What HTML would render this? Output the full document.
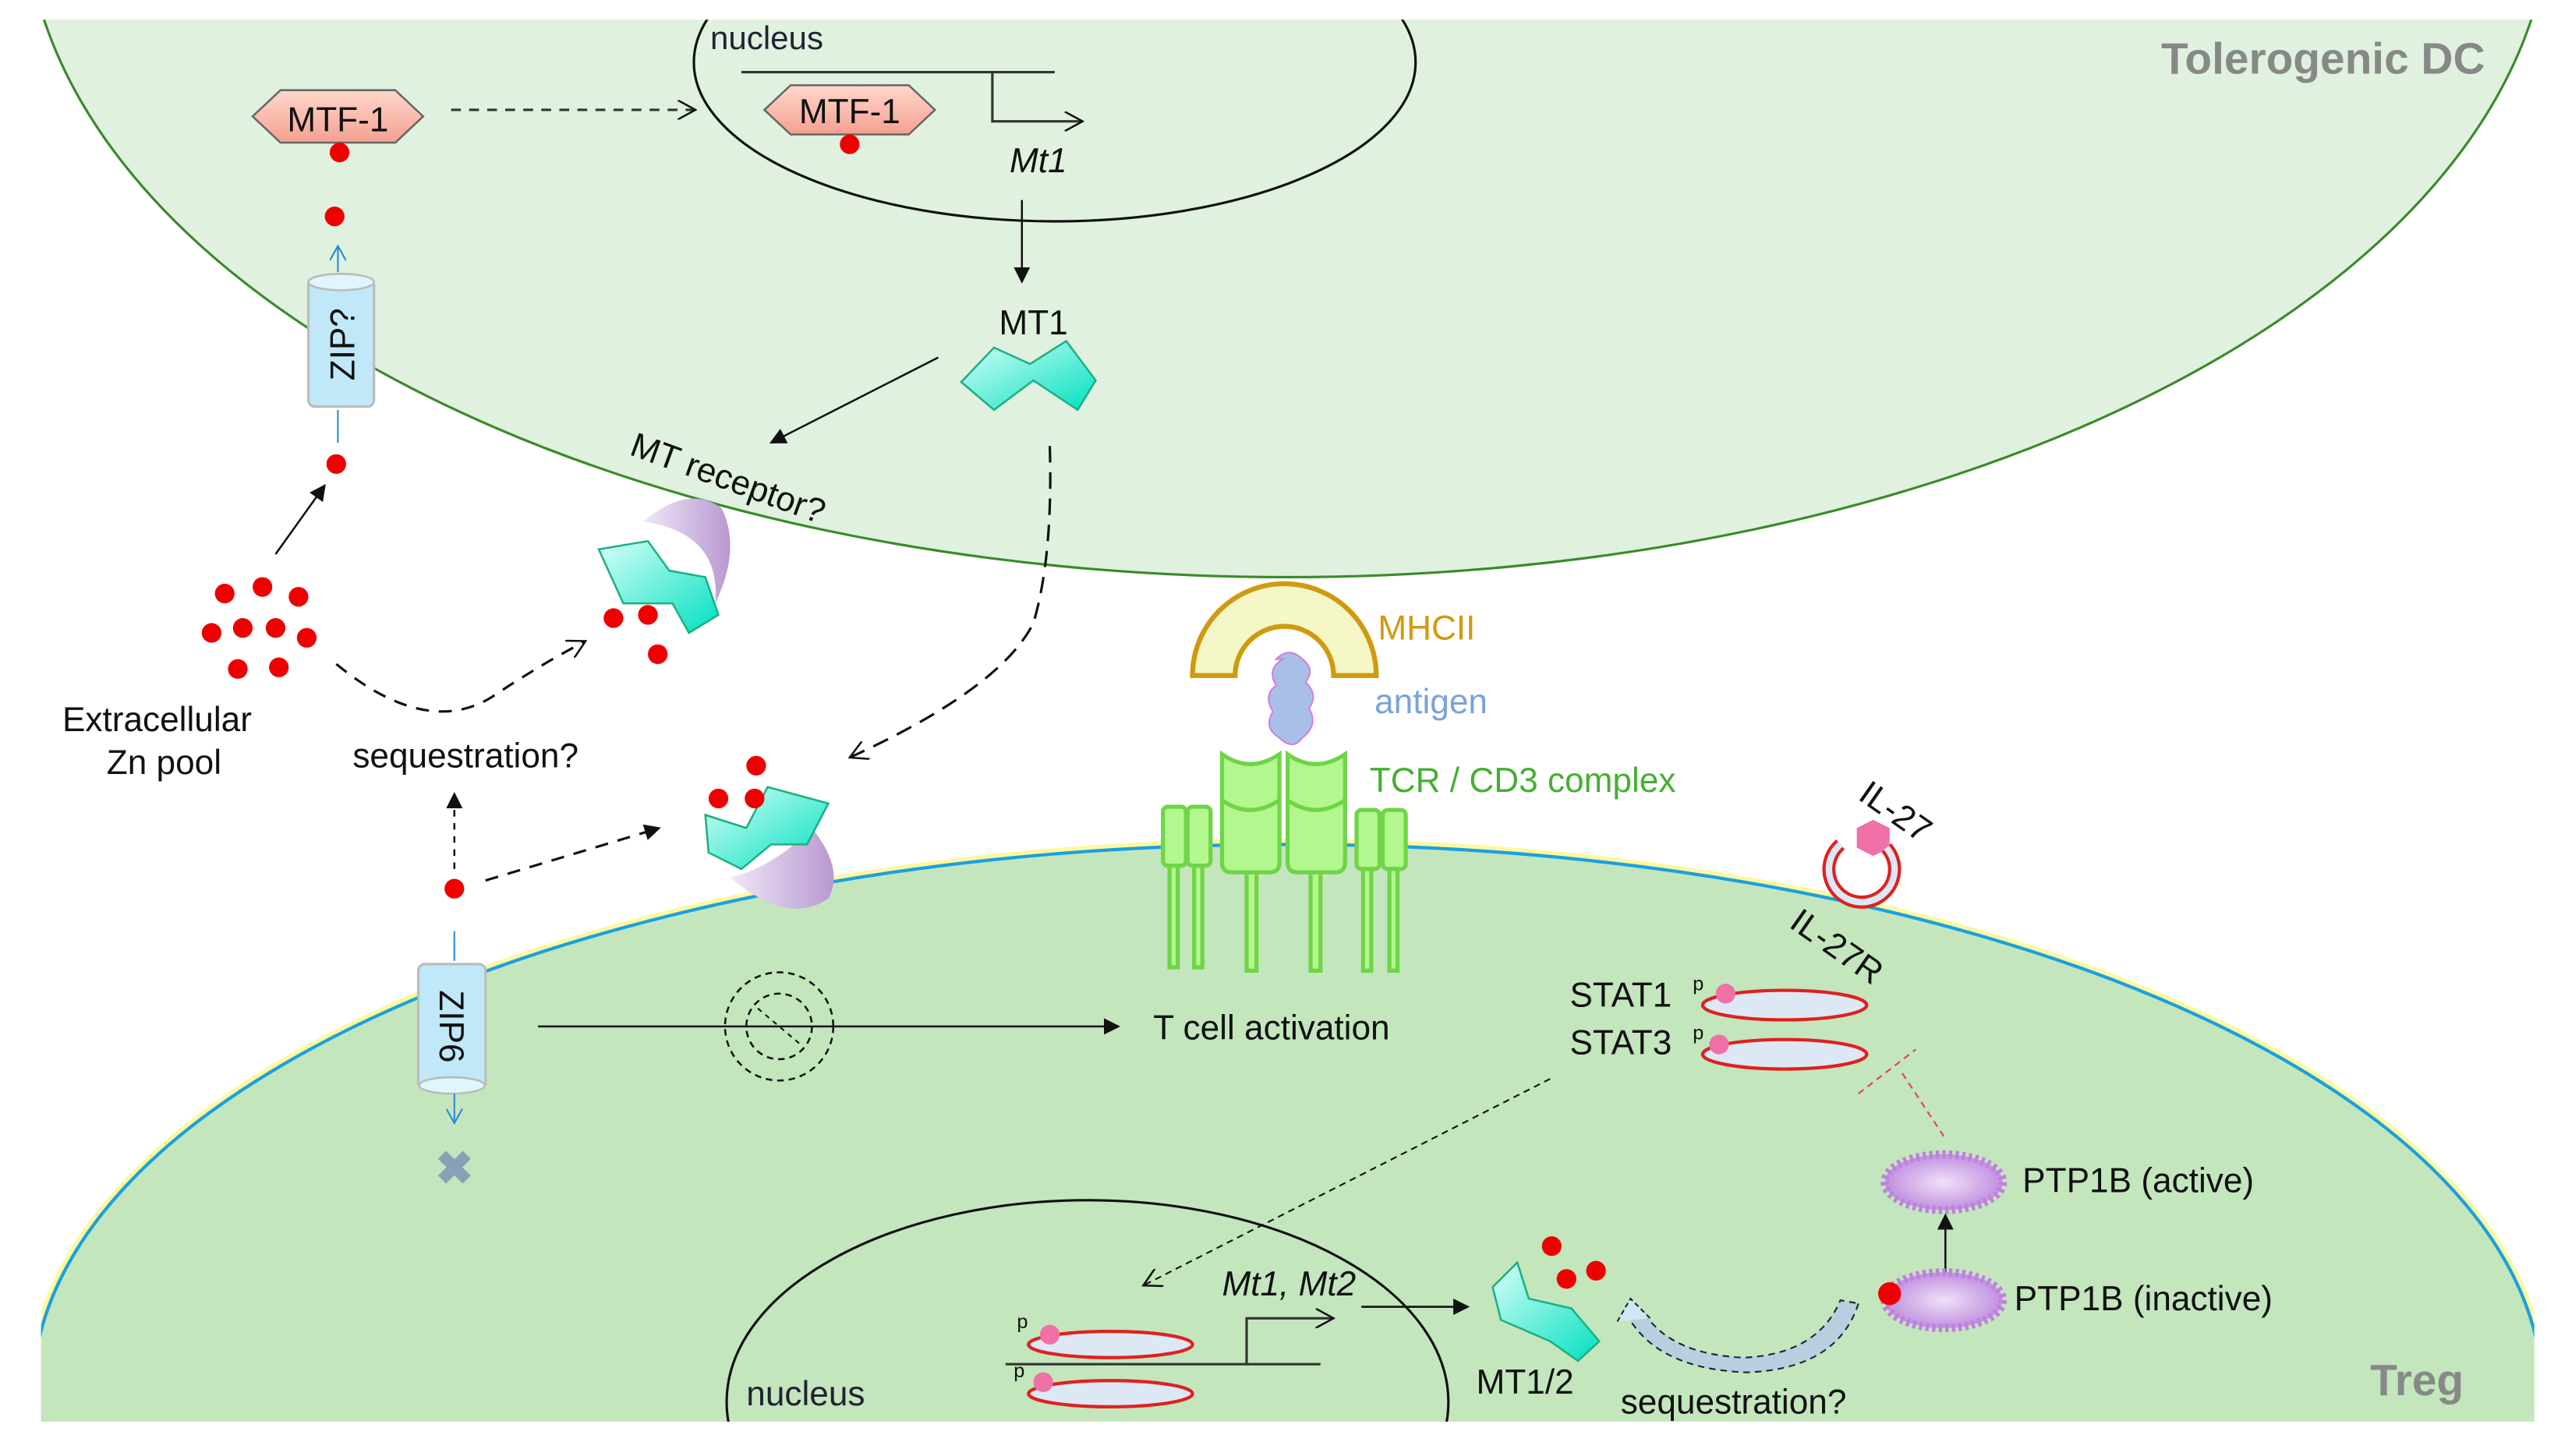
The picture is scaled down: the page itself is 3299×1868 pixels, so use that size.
<!DOCTYPE html>
<html><head><meta charset="utf-8"><style>html,body{margin:0;padding:0;background:#fff;overflow:hidden;width:3299px;height:1868px}svg{display:block}text{font-family:"Liberation Sans",sans-serif}</style></head>
<body>
<svg width="3299" height="1868" viewBox="0 0 1568 888" preserveAspectRatio="none" xmlns="http://www.w3.org/2000/svg">
<defs>
<clipPath id="ctop"><rect x="25" y="12" width="1520" height="420"/></clipPath>
<clipPath id="cbot"><rect x="25" y="450" width="1520" height="417"/></clipPath>
<linearGradient id="teal" x1="0" y1="0" x2="1" y2="1"><stop offset="0" stop-color="#d8fff8"/><stop offset="1" stop-color="#00e0c0"/></linearGradient>
<linearGradient id="pink" x1="0" y1="0" x2="0" y2="1"><stop offset="0" stop-color="#ffd8cc"/><stop offset="1" stop-color="#f4a090"/></linearGradient>
<linearGradient id="purp" x1="0" y1="0" x2="1" y2="0"><stop offset="0" stop-color="#f0e8f8"/><stop offset="1" stop-color="#b898d0"/></linearGradient>
<radialGradient id="spk"><stop offset="0" stop-color="#f0e0f8"/><stop offset="1" stop-color="#c090e0"/></radialGradient>
<marker id="ah" markerWidth="10" markerHeight="10" refX="9" refY="5" orient="auto" markerUnits="userSpaceOnUse"><path d="M0,0 L10,5 L0,10 z" fill="#111"/></marker>
<marker id="ao" markerWidth="12" markerHeight="12" refX="11" refY="6" orient="auto" markerUnits="userSpaceOnUse"><path d="M0,0 L11,6 L0,12" fill="none" stroke="#111" stroke-width="1.2"/></marker>
<marker id="ab" markerWidth="10" markerHeight="10" refX="9" refY="5" orient="auto" markerUnits="userSpaceOnUse"><path d="M0,0 L9,5 L0,10" fill="none" stroke="#2a8ad8" stroke-width="1"/></marker>
</defs>

<g clip-path="url(#ctop)"><ellipse cx="785" cy="-60" rx="770" ry="412" fill="#e0f1df" stroke="#3a8a2a" stroke-width="1.5"/></g>
<g clip-path="url(#cbot)">
<ellipse cx="785" cy="850" rx="765" ry="335" fill="none" stroke="#fff8a0" stroke-width="7"/>
<ellipse cx="785" cy="850" rx="765" ry="335" fill="#c3e6bd" stroke="#1aa0e0" stroke-width="2"/>
</g>

<text x="1515" y="45" font-size="27" font-weight="bold" fill="#888" text-anchor="end">Tolerogenic DC</text>
<text x="1502" y="851" font-size="27" font-weight="bold" fill="#888" text-anchor="end">Treg</text>

<g clip-path="url(#ctop)"><ellipse cx="643" cy="38" rx="220" ry="97" fill="none" stroke="#111" stroke-width="1.5"/></g>
<text x="433" y="30" font-size="20" fill="#223">nucleus</text>
<line x1="452" y1="44" x2="643" y2="44" stroke="#333" stroke-width="1.5"/>
<polyline points="605,44 605,74 660,74" fill="none" stroke="#333" stroke-width="1.5" marker-end="url(#ao)"/>
<polygon points="466,67 482,52 554,52 570,67 554,82 482,82" fill="url(#pink)" stroke="#666" stroke-width="1.2"/>
<text x="518" y="75" font-size="21" text-anchor="middle" fill="#111">MTF-1</text>
<circle cx="518" cy="88" r="6" fill="#e00"/>
<text x="633" y="105" font-size="21" font-style="italic" text-anchor="middle" fill="#111">Mt1</text>
<line x1="623" y1="122" x2="623" y2="172" stroke="#111" stroke-width="1.2" marker-end="url(#ah)"/>

<polygon points="154,71 171,55 241,55 258,71 241,87 171,87" fill="url(#pink)" stroke="#666" stroke-width="1.2"/>
<text x="206" y="80" font-size="21" text-anchor="middle" fill="#111">MTF-1</text>
<circle cx="207" cy="93" r="6" fill="#e00"/>
<line x1="275" y1="67" x2="424" y2="67" stroke="#333" stroke-width="1.5" stroke-dasharray="6,5" marker-end="url(#ao)"/>
<circle cx="204" cy="132" r="6" fill="#e00"/>
<line x1="206" y1="166" x2="206" y2="150" stroke="#2a8ad8" stroke-width="1" marker-end="url(#ab)"/>
<rect x="188" y="170" width="40" height="78" rx="4" fill="#c0e8f8" stroke="#bbb" stroke-width="1.5"/>
<ellipse cx="208" cy="172" rx="20" ry="5" fill="#e0f6ff" stroke="#bbb" stroke-width="1.2"/>
<text transform="translate(216,210) rotate(-90)" font-size="21" text-anchor="middle" fill="#111">ZIP?</text>
<line x1="206" y1="250" x2="206" y2="270" stroke="#2a8ad8" stroke-width="1"/>
<circle cx="205" cy="283" r="6" fill="#e00"/>
<line x1="168" y1="338" x2="198" y2="296" stroke="#111" stroke-width="1.2" marker-end="url(#ah)"/>
<g fill="#e00">
<circle cx="137" cy="362" r="6"/><circle cx="160" cy="358" r="6"/><circle cx="182" cy="364" r="6"/>
<circle cx="129" cy="386" r="6"/><circle cx="148" cy="383" r="6"/><circle cx="168" cy="383" r="6"/><circle cx="187" cy="389" r="6"/>
<circle cx="145" cy="408" r="6"/><circle cx="170" cy="407" r="6"/>
</g>
<text x="38" y="446" font-size="21" fill="#111">Extracellular</text>
<text x="65" y="472" font-size="21" fill="#111">Zn pool</text>
<path d="M205,405 Q260,450 300,425 Q330,405 357,391" fill="none" stroke="#111" stroke-width="1.5" stroke-dasharray="8,6" marker-end="url(#ao)"/>
<text transform="translate(383,277) rotate(20)" font-size="21" fill="#111">MT receptor?</text>
<line x1="572" y1="218" x2="470" y2="270" stroke="#111" stroke-width="1.2" marker-end="url(#ah)"/>
<text x="630" y="204" font-size="21" text-anchor="middle" fill="#111">MT1</text>
<polygon points="586,233 606,212 628,222 650,208 668,232 657,250 630,232 606,250" fill="url(#teal)" stroke="#1cb080" stroke-width="1.2"/>
<path d="M640,272 Q642,340 630,380 Q610,420 518,462" fill="none" stroke="#111" stroke-width="1.5" stroke-dasharray="10,6" marker-end="url(#ao)"/>

<path d="M392,318 Q420,295 440,310 Q452,335 436,368 Q440,325 392,318 z" fill="url(#purp)"/>
<polygon points="365,335 395,330 408,348 430,352 438,375 420,386 410,368 380,368" fill="url(#teal)" stroke="#1cb080" stroke-width="1.2"/>
<g fill="#e00"><circle cx="374" cy="377" r="6"/><circle cx="395" cy="375" r="6"/><circle cx="401" cy="399" r="6"/></g>

<path d="M445,535 Q470,530 495,505 Q515,530 505,548 Q480,565 445,535 z" fill="url(#purp)"/>
<polygon points="430,497 455,505 468,480 505,490 492,515 470,515 452,530 432,520" fill="url(#teal)" stroke="#1cb080" stroke-width="1.2"/>
<g fill="#e00"><circle cx="461" cy="467" r="6"/><circle cx="438" cy="487" r="6"/><circle cx="460" cy="487" r="6"/></g>
<line x1="296" y1="537" x2="402" y2="505" stroke="#111" stroke-width="1.5" stroke-dasharray="8,6" marker-end="url(#ah)"/>
<text x="215" y="468" font-size="21" fill="#111">sequestration?</text>
<line x1="277" y1="530" x2="277" y2="484" stroke="#111" stroke-width="1.2" stroke-dasharray="4,4" marker-end="url(#ah)"/>
<circle cx="277" cy="542" r="6" fill="#e00"/>
<line x1="277" y1="568" x2="277" y2="586" stroke="#2a8ad8" stroke-width="1"/>
<rect x="255" y="588" width="41" height="76" rx="4" fill="#c0e8f8" stroke="#bbb" stroke-width="1.5"/>
<ellipse cx="275.5" cy="662" rx="20" ry="5" fill="#e0f6ff" stroke="#bbb" stroke-width="1.2"/>
<text transform="translate(268,626) rotate(90)" font-size="21" text-anchor="middle" fill="#111">ZIP6</text>
<line x1="277" y1="667" x2="277" y2="685" stroke="#2a8ad8" stroke-width="1" marker-end="url(#ab)"/>
<text x="277" y="722" font-size="28" font-weight="bold" text-anchor="middle" fill="#8aa0b8">✖</text>
<circle cx="475" cy="626" r="33" fill="none" stroke="#111" stroke-width="1.2" stroke-dasharray="4,3"/>
<circle cx="475" cy="626" r="20" fill="none" stroke="#111" stroke-width="1.2" stroke-dasharray="4,3"/>
<line x1="462" y1="615" x2="488" y2="637" stroke="#111" stroke-dasharray="3,3"/>
<line x1="328" y1="626" x2="682" y2="626" stroke="#111" stroke-width="1.2" marker-end="url(#ah)"/>
<text x="703" y="634" font-size="21" fill="#111">T cell activation</text>

<path d="M727,412 A56,56 0 0 1 839,412 L813,412 A30,30 0 0 0 753,412 z" fill="#f6f7c6" stroke="#d09a10" stroke-width="3"/>
<text x="840" y="390" font-size="21" fill="#d09a10">MHCII</text>
<path d="M778,402 q8,-8 16,0 q8,6 2,14 q8,8 2,16 q6,10 -4,18 q-6,8 -14,0 q-10,-6 -4,-16 q-6,-10 2,-16 q-6,-10 4,-16 z" fill="#a8c0e8" stroke="#d080e0" stroke-width="1"/>
<text x="838" y="435" font-size="21" fill="#7aa2dc">antigen</text>
<g fill="#b2f88e" stroke="#70d448" stroke-width="2.5">
<path d="M745,460 Q762,472 780,460 L780,526 Q780,532 774,532 L751,532 Q745,532 745,526 z"/>
<path d="M785,460 Q802,472 820,460 L820,526 Q820,532 814,532 L791,532 Q785,532 785,526 z"/>
<rect x="709" y="492" width="14" height="36" rx="3"/><rect x="724" y="492" width="14" height="36" rx="3"/>
<rect x="827" y="494" width="14" height="36" rx="3"/><rect x="843" y="494" width="14" height="36" rx="3"/>
<rect x="760" y="532" width="6" height="60"/><rect x="799" y="532" width="6" height="60"/>
<rect x="713" y="528" width="5" height="62"/><rect x="728" y="528" width="5" height="62"/>
<rect x="831" y="530" width="5" height="62"/><rect x="847" y="530" width="5" height="62"/>
</g>
<path d="M745,488 Q762,500 780,488 M785,488 Q802,500 820,488" fill="none" stroke="#70d448" stroke-width="2.5"/>
<text x="835" y="483" font-size="21" fill="#44b030">TCR / CD3 complex</text>

<text transform="translate(1132,487) rotate(35)" font-size="21" fill="#111">IL-27</text>
<polygon points="1142,500 1152,505 1152,517 1142,522 1132,517 1132,505" fill="#f070a8"/>
<path d="M1122,515 A20,20 0 1 0 1150,517" fill="none" stroke="#e02020" stroke-width="8"/>
<path d="M1122,515 A20,20 0 1 0 1150,517" fill="none" stroke="#dce8f4" stroke-width="4"/>
<text transform="translate(1090,565) rotate(35)" font-size="21" fill="#111">IL-27R</text>

<text x="957" y="614" font-size="21" fill="#111">STAT1</text>
<text x="1032" y="604" font-size="12" fill="#111">p</text>
<ellipse cx="1088" cy="613" rx="50" ry="9" fill="#dce8f4" stroke="#e02020" stroke-width="2"/>
<circle cx="1052" cy="606" r="6" fill="#f070a8"/>
<text x="957" y="643" font-size="21" fill="#111">STAT3</text>
<text x="1032" y="634" font-size="12" fill="#111">p</text>
<ellipse cx="1088" cy="643" rx="50" ry="9" fill="#dce8f4" stroke="#e02020" stroke-width="2"/>
<circle cx="1048" cy="637" r="6" fill="#f070a8"/>
<line x1="1185" y1="693" x2="1158" y2="652" stroke="#e04060" stroke-width="1" stroke-dasharray="4,3"/>
<line x1="1133" y1="667" x2="1168" y2="640" stroke="#e04060" stroke-width="1" stroke-dasharray="4,3"/>

<ellipse cx="1185" cy="721" rx="36" ry="17" fill="url(#spk)" stroke="#c080e0" stroke-width="5" stroke-dasharray="2,2"/>
<text x="1233" y="727" font-size="21" fill="#111">PTP1B (active)</text>
<line x1="1186" y1="778" x2="1186" y2="741" stroke="#111" stroke-width="1.2" marker-end="url(#ah)"/>
<ellipse cx="1185" cy="793" rx="36" ry="17" fill="url(#spk)" stroke="#c080e0" stroke-width="5" stroke-dasharray="2,2"/>
<circle cx="1152" cy="789" r="7" fill="#e00"/>
<text x="1228" y="799" font-size="21" fill="#111">PTP1B (inactive)</text>
<line x1="945" y1="658" x2="697" y2="784" stroke="#111" stroke-width="1" stroke-dasharray="4,3" marker-end="url(#ao)"/>

<g clip-path="url(#cbot)"><ellipse cx="663" cy="855" rx="220" ry="123" fill="none" stroke="#111" stroke-width="1.5"/></g>
<text x="455" y="857" font-size="21" fill="#223">nucleus</text>
<line x1="613" y1="832" x2="805" y2="832" stroke="#333" stroke-width="1.5"/>
<polyline points="760,832 760,804 813,804" fill="none" stroke="#333" stroke-width="1.5" marker-end="url(#ao)"/>
<text x="745" y="790" font-size="21" font-style="italic" fill="#111">Mt1, Mt2</text>
<ellipse cx="677" cy="820" rx="50" ry="8" fill="#dce8f4" stroke="#e02020" stroke-width="2"/>
<circle cx="640" cy="814" r="6" fill="#f070a8"/><text x="620" y="810" font-size="12" fill="#111">p</text>
<ellipse cx="677" cy="850" rx="50" ry="8" fill="#dce8f4" stroke="#e02020" stroke-width="2"/>
<circle cx="636" cy="843" r="6" fill="#f070a8"/><text x="618" y="840" font-size="12" fill="#111">p</text>
<line x1="830" y1="797" x2="895" y2="797" stroke="#111" stroke-width="1.2" marker-end="url(#ah)"/>
<polygon points="910,785 925,770 932,792 958,798 975,818 962,830 945,818 915,805" fill="url(#teal)" stroke="#1cb080" stroke-width="1.2"/>
<g fill="#e00"><circle cx="946" cy="760" r="6"/><circle cx="955" cy="780" r="6"/><circle cx="973" cy="775" r="6"/></g>
<text x="900" y="850" font-size="21" fill="#111">MT1/2</text>
<path d="M1133,795 Q1120,835 1065,837 Q1010,835 992,802 L1002,800 Q1018,826 1063,828 Q1108,826 1122,793 z" fill="#b8cfe0" stroke="#223" stroke-width="1" stroke-dasharray="4,3"/>
<path d="M986,806 L994,792 L1006,804" fill="#d0e8f4" stroke="#223" stroke-dasharray="3,2"/>
<text x="988" y="862" font-size="21" fill="#111">sequestration?</text>
</svg>
</body></html>
